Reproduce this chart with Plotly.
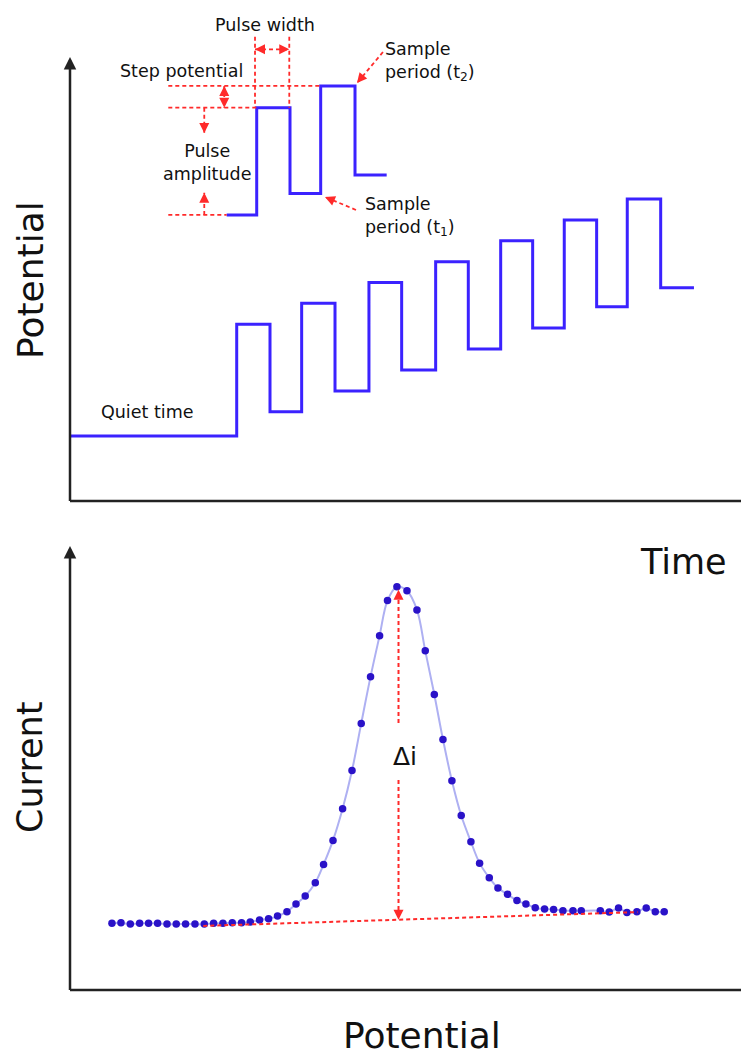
import plotly.graph_objects as go

# ---------------- Differential pulse waveform (upper panel) ----------------
quiet_level = 31.4
rise_times = [25.59, 35.56, 45.89, 56.13, 66.11, 75.87, 85.54]
fall_times = [30.70, 40.68, 50.91, 61.14, 71.02, 80.84, 90.67]
pulse_tops = [85.4, 95.5, 105.5, 115.6, 125.7, 135.7, 145.9]
pulse_bases = [43.1, 53.1, 63.3, 73.4, 83.6, 93.9, 103.0]
sweep_end = 95.78

# Small explanatory waveform drawn in the corner
inset_times = [24.05, 28.66, 33.77, 38.48, 43.75, 48.61]
inset_levels = [138.2, 190.0, 148.6, 200.5, 157.5, 157.5]

# Guide geometry for the explanatory waveform
guide_left = 15.09
width_marks = [28.40, 33.66]
width_mark_top = 224.3
width_arrow_level = 218.2
step_arrow_x = 23.68
amp_arrow_x = 20.61
amp_arrow_tips = [177.8, 148.9]
t2_arrow = [(48.04, 216.9), (44.05, 201.9)]
t1_arrow = [(43.90, 140.6), (39.14, 146.9)]

# ---------------- Differential pulse voltammogram (lower panel) ----------------
potential = [0.0, 0.97, 1.97, 2.97, 3.93, 4.9, 5.91, 6.9, 7.9, 8.91, 9.91, 10.91,
             11.91, 12.91, 13.91, 14.84, 15.84, 16.81, 17.77, 18.78, 19.75, 20.74,
             21.82, 22.71, 23.72, 24.75, 25.76, 26.75, 27.75, 28.72, 29.57, 30.58,
             31.66, 32.73, 33.62, 34.59, 35.52, 36.48, 37.48, 38.52, 39.45, 40.49,
             41.42, 42.45, 43.46, 44.42, 45.42, 46.42, 47.39, 48.39, 49.47, 50.36,
             52.4, 53.36, 54.36, 55.26, 56.33, 57.33, 58.3, 59.26]
current = [15.0, 15.1, 14.8, 15.0, 15.0, 15.0, 14.8, 14.8, 14.8, 14.8, 14.8, 15.0,
           15.0, 15.1, 15.1, 15.3, 15.7, 16.0, 16.6, 17.6, 19.3, 21.1, 24.1, 28.2,
           33.6, 40.7, 49.3, 59.9, 70.4, 79.6, 87.5, 90.6,
           89.7, 85.4, 76.2, 66.4, 56.3, 47.0, 39.2, 33.3, 28.5, 25.2, 22.9, 21.5,
           20.1, 19.3, 18.5, 18.2, 18.1, 17.8, 17.8, 17.8, 17.8, 17.5, 18.4, 17.4,
           17.6, 18.4, 17.6, 17.6]
baseline_x = [9.8, 56.4]
baseline_y = [14.4, 17.5]
delta_x = 30.75
delta_top = 89.9
delta_bottom = 15.8
delta_gap = [47.2, 60.0]

WAVE_BLUE = "#3b22ff"
RED = "#ff2a2a"
AXIS = "#222222"
FONT = "DejaVu Sans"

# panel frames (paper fractions)
W, H = 741, 1056
AX_LEFT = 70 / W
TOP_PANEL = (1 - 501 / H, 1 - 10 / H)
BOTTOM_PANEL = (1 - 990 / H, 1 - 540 / H)
TOP_ARROW_Y = 1 - 57 / H
BOTTOM_ARROW_Y = 1 - 546 / H

fig = go.Figure()

# staircase waveform
wx, wy = [0.0], [quiet_level]
for r, f, t, b in zip(rise_times, fall_times, pulse_tops, pulse_bases):
    wx += [r, f]
    wy += [t, b]
wx.append(sweep_end)
wy.append(pulse_bases[-1])
fig.add_trace(go.Scatter(x=wx, y=wy, mode="lines", line=dict(color=WAVE_BLUE, width=3, shape="hv"),
                         xaxis="x", yaxis="y", hoverinfo="skip"))

# explanatory waveform
fig.add_trace(go.Scatter(x=inset_times, y=inset_levels, mode="lines",
                         line=dict(color=WAVE_BLUE, width=3, shape="hv"),
                         xaxis="x", yaxis="y", hoverinfo="skip"))


def dashed(x, y, xa="x", ya="y", width=1.8):
    fig.add_trace(go.Scatter(x=x, y=y, mode="lines",
                             line=dict(color=RED, width=width, dash="4px,3px"),
                             xaxis=xa, yaxis=ya, hoverinfo="skip"))


annotations = []


def head(x, y, ax, ay, xref="x", yref="y", color=RED, width=2.0):
    annotations.append(dict(x=x, y=y, xref=xref, yref=yref, ax=ax, ay=ay, text="",
                            showarrow=True, arrowhead=2, arrowsize=1, arrowwidth=width,
                            arrowcolor=color, standoff=0, startstandoff=0))


# horizontal guide levels
dashed([guide_left, inset_times[3]], [inset_levels[3]] * 2)
dashed([guide_left, inset_times[1]], [inset_levels[1]] * 2)
dashed([guide_left, inset_times[0]], [inset_levels[0]] * 2)
# pulse width guides
for xm in width_marks:
    dashed([xm, xm], [width_mark_top, inset_levels[1]])
dashed(width_marks, [width_arrow_level] * 2)
head(width_marks[0], width_arrow_level, 8, 0)
head(width_marks[1], width_arrow_level, -8, 0)
# step potential
dashed([step_arrow_x] * 2, [inset_levels[3], inset_levels[1]])
head(step_arrow_x, inset_levels[3], 0, 8)
head(step_arrow_x, inset_levels[1], 0, -8)
# pulse amplitude
dashed([amp_arrow_x] * 2, [inset_levels[1], amp_arrow_tips[0]])
dashed([amp_arrow_x] * 2, [inset_levels[0], amp_arrow_tips[1]])
head(amp_arrow_x, amp_arrow_tips[0], 0, -7)
head(amp_arrow_x, amp_arrow_tips[1], 0, 7)
# sample period pointers
dashed([t2_arrow[0][0], t2_arrow[1][0]], [t2_arrow[0][1], t2_arrow[1][1]])
head(t2_arrow[1][0], t2_arrow[1][1], 5, -6)
dashed([t1_arrow[0][0], t1_arrow[1][0]], [t1_arrow[0][1], t1_arrow[1][1]])
head(t1_arrow[1][0], t1_arrow[1][1], 7, 3)

# voltammogram
fig.add_trace(go.Scatter(x=potential, y=current, mode="lines+markers",
                         line=dict(color="#aeb0f2", width=2, shape="spline"),
                         marker=dict(color="#2a12c8", size=7.5),
                         xaxis="x2", yaxis="y2", hoverinfo="skip"))
dashed(baseline_x, baseline_y, "x2", "y2", 2)
dashed([delta_x, delta_x], [delta_gap[1], delta_top], "x2", "y2", 2)
dashed([delta_x, delta_x], [delta_gap[0], delta_bottom], "x2", "y2", 2)
head(delta_x, delta_top, 0, 8, "x2", "y2")
head(delta_x, delta_bottom, 0, -8, "x2", "y2")

# axis lines with arrowheads
shapes = []
for (y_lo, _), y_tip in [(TOP_PANEL, TOP_ARROW_Y), (BOTTOM_PANEL, BOTTOM_ARROW_Y)]:
    shapes.append(dict(type="line", xref="paper", yref="paper", x0=AX_LEFT, x1=AX_LEFT,
                       y0=y_lo, y1=y_tip - 6 / H, line=dict(color=AXIS, width=2.5)))
    shapes.append(dict(type="line", xref="paper", yref="paper", x0=AX_LEFT, x1=1.0,
                       y0=y_lo, y1=y_lo, line=dict(color=AXIS, width=2.5)))
    head(AX_LEFT, y_tip, 0, 10, "paper", "paper", AXIS, 2.5)
    head(1 + 7 / W, y_lo, -10, 0, "paper", "paper", AXIS, 2.5)

small = dict(family=FONT, size=17.5, color="#111111")
labels = [
    dict(x=29.93, y=230.0, text="Pulse width", xanchor="center"),
    dict(x=17.14, y=207.7, text="Step potential", xanchor="center"),
    dict(x=21.0, y=163.3, text="Pulse<br>amplitude", xanchor="center"),
    dict(x=48.04, y=212.2, text="Sample<br>period (t<sub>2</sub>)", xanchor="left", align="left"),
    dict(x=44.97, y=137.3, text="Sample<br>period (t<sub>1</sub>)", xanchor="left", align="left"),
    dict(x=11.77, y=43.1, text="Quiet time", xanchor="center"),
]
for lab in labels:
    annotations.append(dict(xref="x", yref="y", showarrow=False, yanchor="middle",
                            font=small, **lab))

annotations.append(dict(x=31.47, y=52.4, xref="x2", yref="y2", text="Δi", showarrow=False,
                        xanchor="center", yanchor="middle",
                        font=dict(family=FONT, size=25, color="#111111")))

centred = dict(xref="paper", yref="paper", showarrow=False, xanchor="center", yanchor="middle")
annotations += [
    dict(x=30 / W, y=1 - 280 / H, text="Potential", textangle=-90,
         font=dict(family=FONT, size=36, color="#111111"), **centred),
    dict(x=30 / W, y=1 - 768 / H, text="Current", textangle=-90,
         font=dict(family=FONT, size=35, color="#111111"), **centred),
    dict(x=683 / W, y=1 - 562 / H, text="Time",
         font=dict(family=FONT, size=35, color="#111111"), **centred),
    dict(x=422 / W, y=1 - 1035 / H, text="Potential",
         font=dict(family=FONT, size=36, color="#111111"), **centred),
]

hidden = dict(visible=False, showgrid=False, zeroline=False, fixedrange=True)
fig.update_layout(
    width=W, height=H,
    margin=dict(l=0, r=0, t=0, b=0),
    paper_bgcolor="white", plot_bgcolor="white",
    showlegend=False,
    xaxis=dict(domain=[AX_LEFT, 1], range=[0, 103], anchor="y", **hidden),
    yaxis=dict(domain=list(TOP_PANEL), range=[0, 237.2], anchor="x", **hidden),
    xaxis2=dict(domain=[AX_LEFT, 1], range=[-4.5, 67.5], anchor="y2", **hidden),
    yaxis2=dict(domain=list(BOTTOM_PANEL), range=[0, 101.1], anchor="x2", **hidden),
    shapes=shapes,
    annotations=annotations,
)

fig.write_html("out.html")
